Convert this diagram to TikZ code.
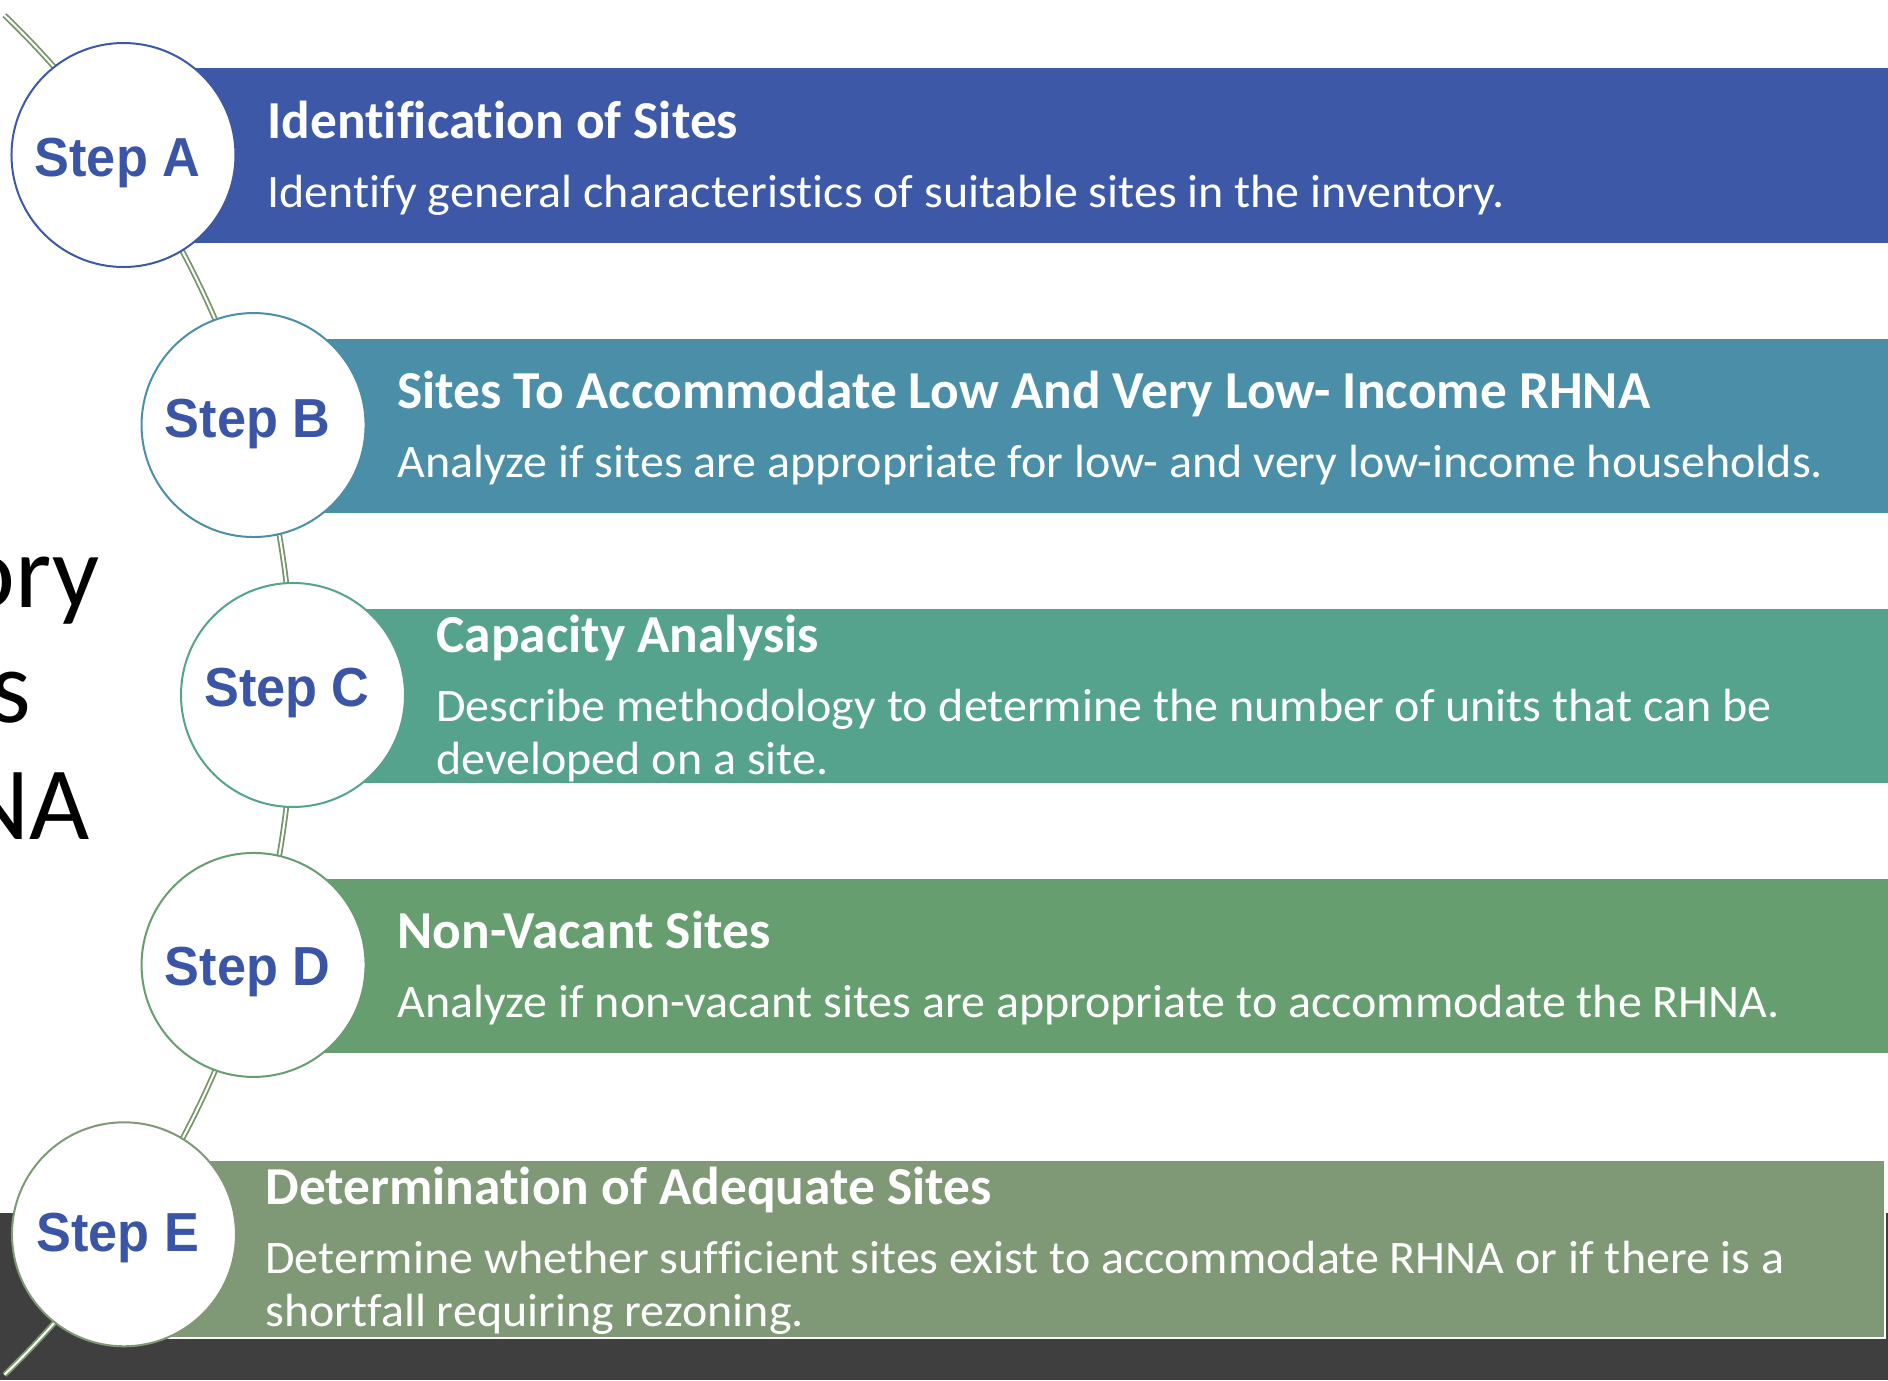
\documentclass[tikz,border=0pt]{standalone}
\usepackage{fontspec}
\setmainfont{Carlito}[Ligatures=NoCommon]
\newfontfamily\descfont{Carlito}[Ligatures=NoCommon, FakeStretch=1.03]
\newfontfamily\labelsans{Liberation Sans}[FakeStretch=0.95]
\usepackage{tikz}
\usetikzlibrary{positioning}

\definecolor{barA}{HTML}{3C58A6}
\definecolor{barB}{HTML}{4A8FA7}
\definecolor{barC}{HTML}{55A38C}
\definecolor{barD}{HTML}{669E70}
\definecolor{barE}{HTML}{7F9876}
\definecolor{stepblue}{HTML}{3A55A5}
\definecolor{track}{HTML}{789569}
\definecolor{darkband}{HTML}{3F3F3F}

\newcommand{\ttl}[1]{{\rmfamily\bfseries\fontsize{26.7}{30}\selectfont #1}}

\begin{document}
\begin{tikzpicture}[x=0.5pt, y=0.5pt,
  stp/.style={draw=#1, circle, fill=white, line width=1pt, minimum size=112pt, inner sep=0pt},
  lbl/.style={font=\labelsans\bfseries\fontsize{27.5}{30}\selectfont, text=stepblue, inner sep=0pt},
  bar/.style={fill=#1, draw=white, line width=1pt},
  info/.style={anchor=west, align=left, inner sep=0pt, text=white, font=\descfont\fontsize{23.3}{26.5}\selectfont},
  head/.style={anchor=base east, inner sep=0pt, font=\fontsize{52}{58}\selectfont}]
\useasboundingbox (0,0) rectangle (1888,1380);
\clip (0,0) rectangle (1888,1380);
% dark strip along the bottom
\fill[darkband] (0,0) rectangle (1888,167);
% the circles sit on one big arc
\coordinate (hub) at (-652,685);
\draw[track, line width=0.9pt, double=white, double distance=1pt]
  ([shift={(46:945)}]hub) arc[start angle=46, end angle=-46, radius=945];
% bars
\path[bar=barA] (120,1136) rectangle (1890,1313);
\path[bar=barB] (250,866) rectangle (1890,1042);
\path[bar=barC] (290,596) rectangle (1890,772);
\path[bar=barD] (250,326) rectangle (1890,502);
\path[bar=barE] (120,42) rectangle (1885,220);
% step circles
\foreach \s/\a/\dy in {A/34.85/-8, B/16.6/1, C/0/2, D/-16.6/-7, E/-34.8/-4}{
  \node[stp=bar\s] (step\s) at ([shift={(\a:945)}]hub) {};
  \node[lbl] (lbl\s) at ([shift={(-6,\dy)}]step\s.center) {Step \s};}
% texts in the bars
\node[info] (infoA) at (267,1221.5) {\ttl{Identification of Sites}\\[8pt]
  Identify general characteristics of suitable sites in the inventory.};
\node[info] (infoB) at (397,952) {\ttl{Sites To Accommodate Low And Very Low- Income RHNA}\\[8pt]
  Analyze if sites are appropriate for low- and very low-income households.};
\node[info] (infoC) at (436,681.5) {\ttl{Capacity Analysis}\\[8pt]
  Describe methodology to determine the number of units that can be\\ developed on a site.};
\node[info] (infoD) at (397,412) {\ttl{Non-Vacant Sites}\\[8pt]
  Analyze if non-vacant sites are appropriate to accommodate the RHNA.};
\node[info] (infoE) at (265,129) {\ttl{Determination of Adequate Sites}\\[8pt]
  Determine whether sufficient sites exist to accommodate RHNA or if there is a\\ shortfall requiring rezoning.};
% heading cut off at the left edge
\node[head] (head1) at (100,772) {ory};
\node[head] (head2) at (32,657) {s};
\node[head] (head3) at (90,540) {NA};
\end{tikzpicture}
\end{document}
